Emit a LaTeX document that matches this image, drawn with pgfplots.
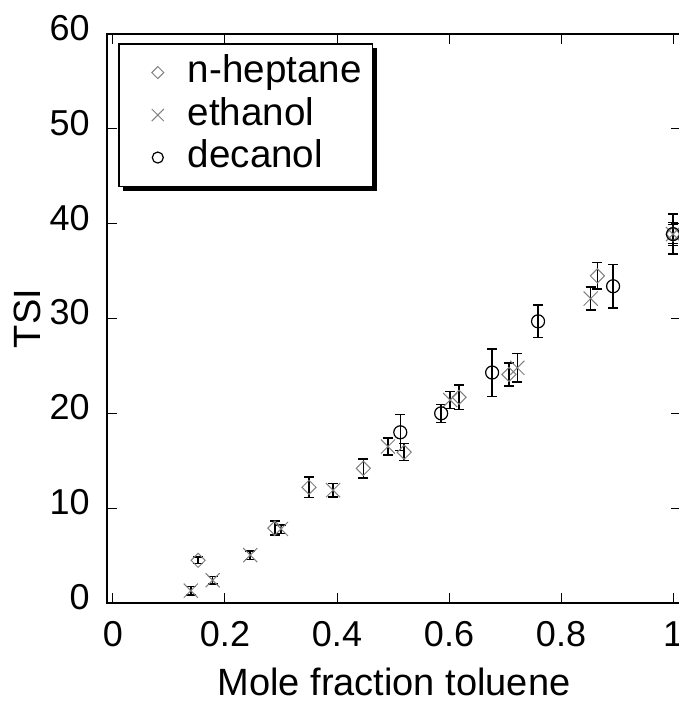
\documentclass[border=0pt]{standalone}
\usepackage{fontspec}
\setmainfont{Liberation Sans}
\usepackage{pgfplots}
\pgfplotsset{compat=1.18}
\usetikzlibrary{shadows}

\definecolor{markgray}{gray}{0.5}
\newcommand{\tickfont}{\fontsize{18}{21}\selectfont}
\newcommand{\labelfont}{\fontsize{19}{22}\selectfont}

% x, TSI, error
\pgfplotstableread{
x      y     e
0.152  4.5   0.35
0.289  7.9   0.75
0.350  12.2  1.1
0.447  14.2  1.0
0.520  15.9  0.9
0.618  21.7  1.3
0.707  24.1  1.2
0.865  34.5  1.4
1.000  38.9  1.2
}\heptane
\pgfplotstableread{
x      y     e
0.139  1.3   0.45
0.178  2.4   0.4
0.245  5.05  0.45
0.300  7.8   0.45
0.393  11.9  0.7
0.491  16.5  0.9
0.602  21.4  0.9
0.722  24.8  1.5
0.853  32.1  1.2
1.000  38.9  1.0
}\ethanol
\pgfplotstableread{
x      y     e
0.513  18.0  1.9
0.586  20.0  0.95
0.677  24.3  2.5
0.759  29.7  1.7
0.893  33.4  2.3
1.000  38.9  2.1
}\decanol

\begin{document}
\begin{tikzpicture}
\begin{axis}[
    scale only axis,
    width=287pt, height=284.5pt,
    xmin=-0.0107, xmax=1.0143,
    ymin=0, ymax=60,
    xtick={0,0.2,0.4,0.6,0.8,1},
    ytick={0,10,20,30,40,50,60},
    tick align=inside,
    major tick length=5pt,
    every tick/.style={black, line width=0.5pt},
    axis line style={line width=0.6pt},
    /pgf/number format/assume math mode=true,
    tick label style={font=\tickfont},
    xticklabel style={anchor=base, yshift=-22pt},
    yticklabel style={anchor=east, inner sep=0pt, xshift=-8.5pt, yshift=3pt},
    label style={font=\labelfont},
    xlabel={Mole fraction toluene},
    xlabel style={at={(axis description cs:0.5,0)}, anchor=base, yshift=-46pt},
    ylabel={TSI},
    ylabel style={at={(axis description cs:-0.138,0.5)}, anchor=center},
    legend style={
      at={(0,1)}, anchor=north west, xshift=5.5pt, yshift=-4.5pt,
      draw=black, line width=0.8pt, fill=white,
      drop shadow={shadow xshift=2.2pt, shadow yshift=-2.2pt, fill=black, opacity=1},
      inner xsep=5.5pt, inner ysep=3.75pt,
      font=\fontsize{19.3}{22}\selectfont,
      nodes={inner sep=0pt, text height=15.75pt, text depth=5.5pt},
      /tikz/column 2/.style={column sep=5pt},
    },
    legend cell align=left,
    legend image code/.code={%
      \node[anchor=center, draw=none, fill=none, inner sep=0pt, minimum width=29pt,
            minimum height=2pt, text height=0pt, text depth=0pt] at (0.5pt,0pt) {};
      \draw[#1, every mark/.append style={scale=0.85}] plot coordinates {(0pt,0pt)};
    },
]

% n-heptane
\addplot[only marks, mark=square, mark size=2.5pt, draw=markgray,
    mark options={rotate=45, line width=0.5pt},
    error bars/.cd, y dir=both, y explicit,
    error bar style={black, line width=0.75pt},
    error mark options={rotate=90, black, mark size=2.5pt, line width=0.75pt}]
  table[x=x, y=y, y error=e] {\heptane};

% ethanol
\addplot[only marks, mark=x, mark size=5pt, draw=markgray,
    mark options={line width=0.5pt},
    error bars/.cd, y dir=both, y explicit,
    error bar style={black, line width=0.75pt},
    error mark options={rotate=90, black, mark size=2.5pt, line width=0.75pt}]
  table[x=x, y=y, y error=e] {\ethanol};

% decanol
\addplot[only marks, mark=o, mark size=3.25pt, draw=black,
    mark options={line width=0.6pt},
    error bars/.cd, y dir=both, y explicit,
    error bar style={black, line width=0.75pt},
    error mark options={rotate=90, black, mark size=2.5pt, line width=0.75pt}]
  table[x=x, y=y, y error=e] {\decanol};

\legend{n-heptane, ethanol, decanol}

\coordinate (ll) at (rel axis cs:0,0);
\coordinate (ur) at (rel axis cs:1,1);
\end{axis}
\pgfresetboundingbox
\path[use as bounding box] ([shift={(-53.5pt,-49.5pt)}]ll) rectangle ([shift={(-1.5pt,17pt)}]ur);
\end{tikzpicture}
\end{document}
